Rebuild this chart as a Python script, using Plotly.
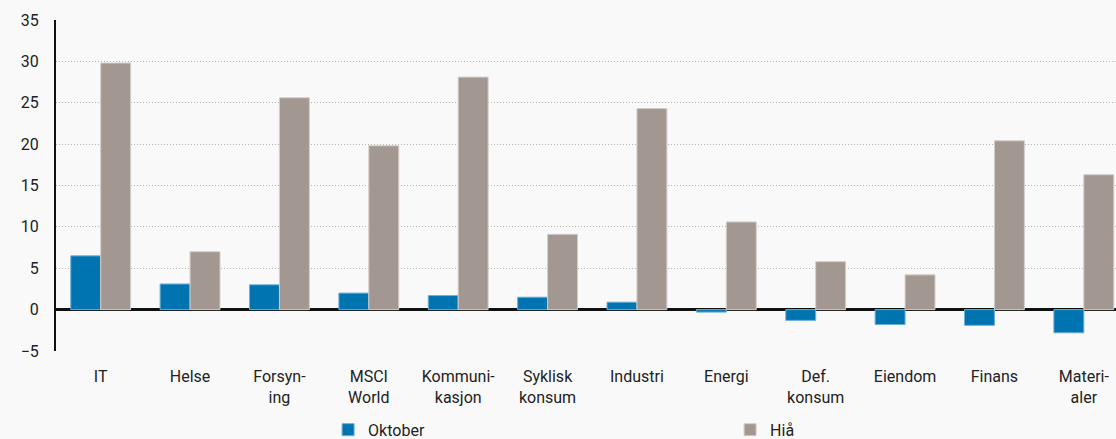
import plotly.graph_objects as go

# Sector returns (%), October vs. year-to-date
categories = ["IT", "Helse", "Forsyn-<br>ing", "MSCI<br>World", "Kommuni-<br>kasjon",
              "Syklisk<br>konsum", "Industri", "Energi", "Def.<br>konsum", "Eiendom",
              "Finans", "Materi-<br>aler"]
oktober = [6.5, 3.1, 3.0, 2.0, 1.7, 1.5, 0.9, -0.3, -1.3, -1.8, -1.9, -2.8]
hia = [29.8, 7.0, 25.6, 19.8, 28.1, 9.1, 24.3, 10.6, 5.8, 4.2, 20.4, 16.3]
y_ticks = [-5, 0, 5, 10, 15, 20, 25, 30, 35]

BLUE = "#0074b1"
GREY = "#a39891"
BG = "#f9f9f9"
FONT = "Roboto, Arial, sans-serif"

x_idx = list(range(len(categories)))

fig = go.Figure()
fig.add_trace(go.Bar(
    name="Oktober", x=x_idx, y=oktober,
    marker=dict(color=BLUE, line=dict(color="#6fb0d8", width=1)),
))
fig.add_trace(go.Bar(
    name="Hiå", x=x_idx, y=hia,
    marker=dict(color=GREY, line=dict(color="#d3cdc9", width=1)),
))

fig.update_layout(
    width=1116, height=439,
    margin=dict(l=56, r=0, t=20, b=88, autoexpand=False),
    paper_bgcolor=BG, plot_bgcolor=BG,
    barmode="group", bargap=0.33, bargroupgap=0,
    font=dict(family=FONT, size=16, color="#222222"),
    showlegend=True,
    legend=dict(
        orientation="h",
        xref="container", x=0.294, xanchor="left",
        yref="container", y=0.021, yanchor="middle",
        font=dict(size=16, color="#222222"),
        bgcolor="rgba(0,0,0,0)",
        entrywidth=357, entrywidthmode="pixels",
        itemwidth=30, traceorder="normal", tracegroupgap=0,
    ),
    xaxis=dict(
        tickmode="array", tickvals=x_idx, ticktext=categories,
        range=[-0.5, 11.36], showgrid=False, zeroline=False,
        showline=False, ticks="", tickfont=dict(size=16),
        ticklabelstandoff=14,
    ),
    yaxis=dict(
        range=[-5, 35], tickmode="array", tickvals=y_ticks,
        showgrid=True, gridcolor="#bdb5b0", griddash="1px,2px", gridwidth=1,
        zeroline=True, zerolinecolor="#111111", zerolinewidth=2.5,
        showline=True, linecolor="#111111", linewidth=2,
        ticks="", tickfont=dict(size=16), ticklabelstandoff=12,
    ),
)

fig.write_html("out.html")
